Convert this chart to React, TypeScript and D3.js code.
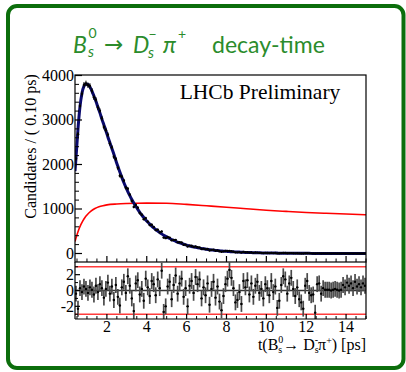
import React from "react";
import * as d3 from "d3";

// histogram binning: 0.10 ps bins from 0.4 to 15 ps
const binLow = 0.4;
const binWidth = 0.1;
const tMax = 15;

// candidates per bin
const counts = [
  2132, 2678, 3317, 3588, 3791, 3822, 3781, 3764, 3656, 3510, 3455, 3279, 3205, 3036, 2841, 2771, 2671, 2470, 2384, 2174,
  2122, 1925, 1748, 1726, 1639, 1478, 1457, 1322, 1180, 1047, 1090, 1030, 910, 871, 772, 796, 717, 642, 647, 596,
  526, 536, 479, 494, 357, 345, 370, 357, 295, 306, 307, 251, 254, 246, 197, 199, 155, 178, 174, 145,
  159, 139, 136, 102, 110, 93, 101, 69, 82, 85, 62, 69, 50, 38, 48, 56, 56, 60, 50, 40,
  26, 26, 30, 20, 33, 27, 29, 20, 24, 15, 21, 20, 14, 15, 9, 15, 12, 9, 14, 9,
  10, 2, 4, 9, 12, 10, 5, 8, 9, 5, 3, 5, 2, 1, 0, 4, 5, 3, 2, 2,
  0, 3, 3, 1, 2, 2, 2, 2, 1, 2, 2, 1, 1, 1, 2, 1, 2, 1, 2, 1,
  2, 1, 1, 1, 1, 1,
];

// fit projection: value at t=0.4, at every bin centre, and at t=15
const fitValues = [
  1850,
  2150, 2800, 3300, 3600, 3760, 3810, 3800, 3740, 3650, 3540, 3420, 3290, 3160, 3020, 2890, 2760, 2620, 2490, 2360, 2230,
  2090, 1960, 1830, 1710, 1595, 1490, 1390, 1300, 1215, 1135, 1060, 990, 925, 865, 808, 755, 706, 660, 617, 577,
  540, 505, 472, 441, 412, 385, 360, 337, 315, 294, 275, 257, 240, 224, 209, 195, 182, 170, 159, 149,
  139, 130, 121, 113, 106, 99, 92, 86, 80, 75, 70, 65, 61, 57, 53, 50, 46, 43, 40, 38,
  35, 33, 31, 29, 27, 25, 23, 22, 20, 19, 18, 16, 15, 14, 13, 12, 11.5, 11, 10, 9.5,
  9, 8.5, 8, 7.5, 7, 6.5, 6, 5.7, 5.3, 5, 4.7, 4.4, 4.1, 3.8, 3.6, 3.4, 3.2, 3.0, 2.8, 2.6,
  2.4, 2.3, 2.1, 2.0, 1.9, 1.8, 1.7, 1.6, 1.5, 1.4, 1.3, 1.2, 1.1, 1.05, 1.0, 0.95, 0.9, 0.85, 0.8, 0.75,
  0.7, 0.65, 0.6, 0.57, 0.54, 0.5,
  0.48,
];

// acceptance (red) curve
const accTimes = [0.4, 0.5, 0.6, 0.7, 0.8, 0.9, 1.0, 1.2, 1.4, 1.6, 1.8, 2.0, 2.5, 3.0, 3.5, 4.0, 5.0, 6.0, 7.0, 8.0, 9.0, 10.0, 11.0, 12.0, 13.0, 14.0, 15.0];
const accValues = [270, 420, 550, 655, 740, 810, 865, 950, 1010, 1050, 1075, 1092, 1112, 1123, 1130, 1133, 1130, 1103, 1072, 1040, 1005, 972, 946, 922, 903, 886, 870];

// pulls per bin
const pulls = [
  -0.4, -2.3, 0.3, -0.2, 0.5, 0.2, -0.3, 0.4, 0.1, -0.5,
  0.6, -0.2, 0.8, 0.3, -0.9, 0.2, 1.0, -0.4, 0.5, -1.2,
  0.7, -0.8, -1.9, 0.4, 1.1, -0.3, 1.8, 0.6, -1.0, -2.6,
  0.9, 1.3, -0.5, 0.2, -1.3, 1.5, 0.4, -0.7, 1.2, 0.8,
  -0.6, 1.4, 0.3, 2.5, -2.7, -2.0, 0.5, 1.1, -1.1, 0.7,
  1.9, -0.4, 0.9, 1.5, -0.8, 0.3, -2.0, 0.6, 1.2, -0.3,
  1.7, 0.8, 1.4, -1.0, 0.4, -0.6, 0.9, -1.8, 0.2, 1.1,
  -0.9, 0.5, -1.4, -2.5, -0.7, 0.8, 1.5, 2.6, 1.6, 0.3,
  -1.5, -1.2, -0.2, -1.7, 1.2, 0.4, 1.3, -0.5, 0.9, -0.8,
  0.6, 1.1, -0.3, 0.2, -1.0, 0.8, 0.3, -0.6, 1.2, -0.2,
  0.5, -2.2, -1.3, 0.7, 1.8, 1.4, -0.4, 0.9, 1.6, 0.2,
  -0.7, 0.4, -1.1, -1.5, -2.3, 0.6, 1.2, -0.3, -0.6, -0.5,
  -2.8, 0.8, 0.9, -0.4, 0.3, 0.1, 0.1, 0.1, 0.0, 0.1,
  0.2, 0.1, 0.0, 0.1, 0.7, 0.4, 1.0, 0.6, 0.9, 0.3,
  1.1, 0.5, 0.8, 0.4, 0.9, 0.6,
];

const yTicks = [0, 1000, 2000, 3000, 4000];
const xTicks = [2, 4, 6, 8, 10, 12, 14];
const pullTicks = [-2, 0, 2];

const FRAME_GREEN = "#0c6e0c";
const TITLE_GREEN = "#2b8c2b";
const SERIF = "'Liberation Serif', 'Times New Roman', serif";

export default function App() {
  const left = 75, right = 366;
  const mainTop = 75, mainBottom = 262, pullBottom = 319;

  const x = d3.scaleLinear().domain([binLow, tMax]).range([left, right]);
  const y = d3.scaleLinear().domain([-191, 4011]).range([mainBottom, mainTop]);
  const yp = d3.scaleLinear().domain([-3.6, 3.6]).range([pullBottom, mainBottom]);

  const centers = counts.map((_, i) => binLow + binWidth * (i + 0.5));
  const fitTimes = [binLow, ...centers, tMax];

  const fitPath = d3.line<number>()
    .x((_, i) => x(fitTimes[i]))
    .y((d) => y(d))
    .curve(d3.curveMonotoneX)(fitValues) || "";
  const accPath = d3.line<number>()
    .x((_, i) => x(accTimes[i]))
    .y((d) => y(d))
    .curve(d3.curveMonotoneX)(accValues) || "";

  const minorY = d3.range(0, 4001, 200).filter((v) => v % 1000 !== 0);
  const minorX = d3.range(0.5, tMax + 0.001, 0.5).filter((v) => v % 2 !== 0);
  const minorPull = [-3, -1, 1, 3];

  return (
    <svg width={406} height={372} style={{ position: "absolute", left: 0, top: 0, background: "#fff" }}>
      <defs>
        <clipPath id="mainClip"><rect x={left} y={mainTop} width={right - left} height={mainBottom - mainTop} /></clipPath>
        <clipPath id="pullClip"><rect x={left} y={mainBottom} width={right - left} height={pullBottom - mainBottom} /></clipPath>
      </defs>

      {/* beamer block frame */}
      <rect x={8} y={6} width={395.5} height={362} rx={9} fill="#fff" stroke={FRAME_GREEN} strokeWidth={4} />

      {/* title */}
      <g fill={TITLE_GREEN} fontFamily="Lato, 'Open Sans', sans-serif" fontSize={23}>
        <text x={73} y={53} fontStyle="italic">B</text>
        <text x={88} y={57} fontSize={15} fontStyle="italic">s</text>
        <text x={88.5} y={38} fontSize={14}>0</text>
        <text x={104} y={52} fontSize={23} fontFamily="'DejaVu Sans', sans-serif">→</text>
        <text x={133} y={53} fontStyle="italic">D</text>
        <text x={148} y={58} fontSize={15} fontStyle="italic">s</text>
        <text x={148.5} y={39} fontSize={14}>−</text>
        <text x={163} y={53} fontStyle="italic">π</text>
        <text x={178} y={39} fontSize={14}>+</text>
        <text x={212} y={53}>decay-time</text>
      </g>

      {/* main panel curves and data */}
      <g clipPath="url(#mainClip)">
        <path d={accPath} fill="none" stroke="#ff0000" strokeWidth={1.6} />
        <path d={fitPath} fill="none" stroke="#0a0a6e" strokeWidth={3} />
        {counts.map((c, i) => {
          const e = Math.sqrt(c);
          const cx = x(centers[i]);
          return (
            <g key={i}>
              <line x1={cx} x2={cx} y1={y(c - e)} y2={y(c + e)} stroke="#000" strokeWidth={1} />
              <line x1={x(centers[i] - binWidth / 2)} x2={x(centers[i] + binWidth / 2)} y1={y(c)} y2={y(c)} stroke="#000" strokeWidth={0.8} />
              <circle cx={cx} cy={y(c)} r={1.2} fill="#000" />
            </g>
          );
        })}
      </g>

      {/* main panel frame and ticks */}
      <rect x={left} y={mainTop} width={right - left} height={mainBottom - mainTop} fill="none" stroke="#000" strokeWidth={1.2} />
      {yTicks.map((v) => (
        <g key={v}>
          <line x1={left} x2={left + 7} y1={y(v)} y2={y(v)} stroke="#000" strokeWidth={1.2} />
          <text x={74} y={y(v) + 5.5} textAnchor="end" fontFamily={SERIF} fontSize={16}>{v}</text>
        </g>
      ))}
      {minorY.map((v) => (
        <line key={v} x1={left} x2={left + 4} y1={y(v)} y2={y(v)} stroke="#000" strokeWidth={1} />
      ))}
      {xTicks.map((v) => (
        <line key={v} x1={x(v)} x2={x(v)} y1={mainBottom} y2={mainBottom - 6} stroke="#000" strokeWidth={1.2} />
      ))}
      {minorX.map((v) => (
        <line key={v} x1={x(v)} x2={x(v)} y1={mainBottom} y2={mainBottom - 3.5} stroke="#000" strokeWidth={1} />
      ))}

      <text x={260} y={99} textAnchor="middle" fontFamily={SERIF} fontSize={21.5}>LHCb Preliminary</text>
      <text transform="translate(36,146.5) rotate(-90)" textAnchor="middle" fontFamily={SERIF} fontSize={16}>
        Candidates / ( 0.10 ps)
      </text>

      {/* pull panel */}
      <line x1={left} x2={right} y1={yp(3)} y2={yp(3)} stroke="#ff3b3b" strokeWidth={1.6} />
      <line x1={left} x2={right} y1={yp(-3)} y2={yp(-3)} stroke="#ff3b3b" strokeWidth={1.6} />
      <line x1={left} x2={right} y1={yp(0)} y2={yp(0)} stroke="#333" strokeWidth={1.6} />
      <g clipPath="url(#pullClip)">
        {pulls.map((p, i) => {
          const cx = x(centers[i]);
          return (
            <g key={i}>
              <line x1={cx} x2={cx} y1={yp(p - 1)} y2={yp(p + 1)} stroke="#4a4a4a" strokeWidth={1.7} />
              <line x1={x(centers[i] - binWidth / 2)} x2={x(centers[i] + binWidth / 2)} y1={yp(p)} y2={yp(p)} stroke="#000" strokeWidth={0.8} />
              <circle cx={cx} cy={yp(p)} r={1.2} fill="#000" />
            </g>
          );
        })}
      </g>
      <line x1={left} x2={left} y1={mainBottom} y2={pullBottom} stroke="#000" strokeWidth={1.2} />
      <line x1={right} x2={right} y1={mainBottom} y2={pullBottom} stroke="#000" strokeWidth={1.2} />
      <line x1={left} x2={right} y1={pullBottom} y2={pullBottom} stroke="#000" strokeWidth={1.2} />
      {pullTicks.map((v) => (
        <g key={v}>
          <line x1={left} x2={left + 5} y1={yp(v)} y2={yp(v)} stroke="#000" strokeWidth={1.2} />
          <text x={74} y={yp(v) + 5.5} textAnchor="end" fontFamily={SERIF} fontSize={16}>{v}</text>
        </g>
      ))}
      {minorPull.map((v) => (
        <line key={v} x1={left} x2={left + 3} y1={yp(v)} y2={yp(v)} stroke="#000" strokeWidth={1} />
      ))}
      {xTicks.map((v) => (
        <g key={v}>
          <line x1={x(v)} x2={x(v)} y1={pullBottom} y2={pullBottom - 5} stroke="#000" strokeWidth={1.2} />
          <text x={x(v)} y={332} textAnchor="middle" fontFamily={SERIF} fontSize={16}>{v}</text>
        </g>
      ))}
      {minorX.map((v) => (
        <line key={v} x1={x(v)} x2={x(v)} y1={pullBottom} y2={pullBottom - 3} stroke="#000" strokeWidth={1} />
      ))}

      {/* x axis title */}
      <text x={366} y={350} textAnchor="end" fontFamily={SERIF} fontSize={16}>
        t(B<tspan dy={3} fontSize={10}>s</tspan><tspan dx={-4} dy={-10} fontSize={10}>0</tspan>
        <tspan dy={7}>→ D</tspan><tspan dy={3} fontSize={10}>s</tspan><tspan dx={-4} dy={-10} fontSize={10}>-</tspan>
        <tspan dy={7}>π</tspan><tspan dy={-6} fontSize={10}>+</tspan><tspan dy={6}>) [ps]</tspan>
      </text>
    </svg>
  );
}
